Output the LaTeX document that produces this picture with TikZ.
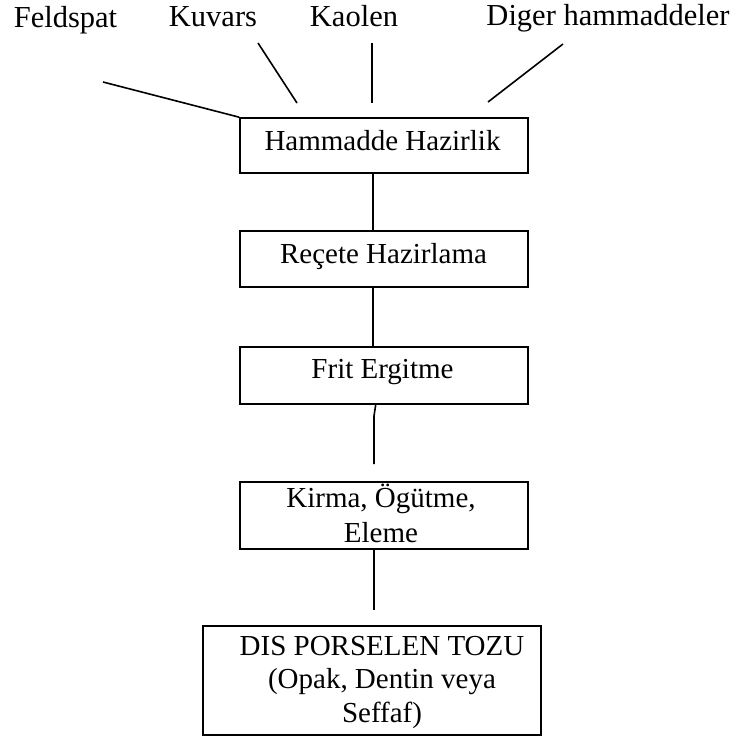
\documentclass[tikz,border=0pt]{standalone}
\usepackage{fontspec}
\setmainfont{Liberation Serif}
\begin{document}
\begin{tikzpicture}[x=1pt,y=-1pt,
  lbl/.style={font=\fontsize{30.5}{34}\selectfont, inner sep=0pt, anchor=base},
  txt/.style={font=\fontsize{29}{34}\selectfont, inner sep=0pt, anchor=base, align=center},
  box/.style={draw, line width=1.6pt, inner sep=0pt},
  conn/.style={line width=1.6pt}]
\useasboundingbox (0,0) rectangle (748,737);
% top labels
\node[lbl] (fs) at (65.5,27) {Feldspat};
\node[lbl] (kv) at (213,26) {Kuvars};
\node[lbl] (ka) at (354,26) {Kaolen};
\node[lbl] (dh) at (608,25) {Diger hammaddeler};
% boxes
\node[box, minimum width=288, minimum height=55] (hh) at (384,145.5) {};
\node[txt] (hht) at (382.5,150) {Hammadde Hazirlik};
\node[box, minimum width=288, minimum height=56] (rh) at (384,259) {};
\node[txt] (rht) at (383.5,263) {Reçete Hazirlama};
\node[box, minimum width=288, minimum height=57] (fe) at (384,375.5) {};
\node[txt] (fet) at (382.5,378) {Frit Ergitme};
\node[box, minimum width=288, minimum height=67] (ko) at (384,515.5) {};
\node[txt, font=\fontsize{29}{35}\selectfont] (kot) at (381,542) {Kirma, Ögütme,\\Eleme};
\node[box, minimum width=338, minimum height=109] (dp) at (372,680.5) {};
\node[txt, font=\fontsize{29}{33.5}\selectfont] (dpt) at (382,722) {DIS PORSELEN TOZU\\(Opak, Dentin veya\\Seffaf)};
% free ends
\coordinate (fsE) at (103,82);
\coordinate (kvA) at (258,43);
\coordinate (kvB) at (297,103);
\coordinate (kaA) at (372,43);
\coordinate (kaB) at (372,103);
\coordinate (dhA) at (563,44);
\coordinate (dhB) at (488,102);
\coordinate (feK) at (374,416);
\coordinate (koA) at (374,464);
\coordinate (dpA) at (374,610);
% connectors
\draw[conn] (fsE) -- (hh.north west);
\draw[conn] (kvA) -- (kvB);
\draw[conn] (kaA) -- (kaB);
\draw[conn] (dhA) -- (dhB);
\draw[conn] (hh.south -| 373,0) -- (rh.north -| 373,0);
\draw[conn] (rh.south -| 373,0) -- (fe.north -| 373,0);
\draw[conn] (fe.south -| 375.7,0) -- (feK) -- (koA);
\draw[conn] (ko.south -| 374,0) -- (dpA);
\end{tikzpicture}
\end{document}
